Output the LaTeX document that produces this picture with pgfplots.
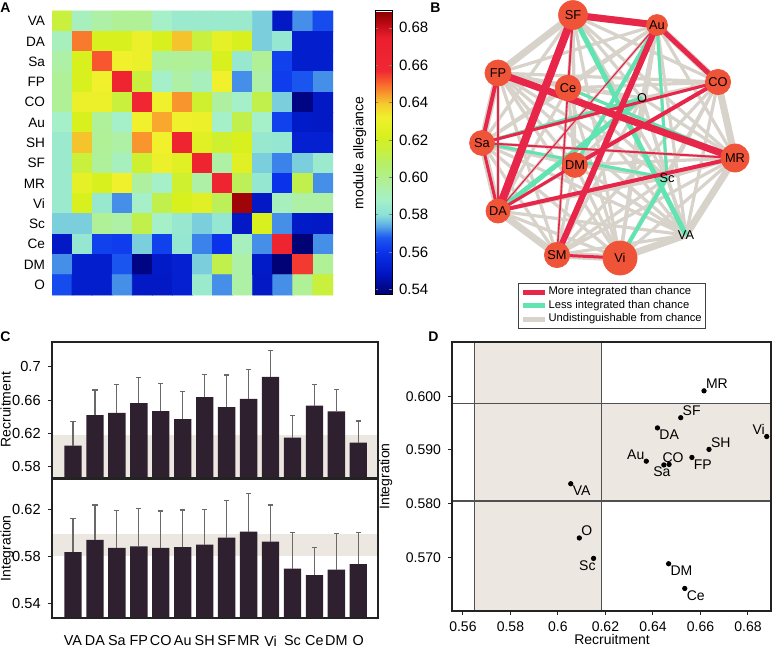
\documentclass[border=0pt]{standalone}
\usepackage{fontspec}
\setmainfont{Liberation Sans}
\usepackage{pgfplots}
\usepackage{pgfplotstable}
\pgfplotsset{compat=1.18}

\definecolor{barfill}{RGB}{46,32,46}
\definecolor{whisk}{RGB}{105,105,105}
\definecolor{band}{RGB}{237,231,225}
\definecolor{edgered}{RGB}{232,38,74}
\definecolor{edgegreen}{RGB}{98,228,178}
\definecolor{edgegray}{RGB}{215,210,202}
\definecolor{nodefill}{RGB}{240,84,56}
\definecolor{framec}{RGB}{35,35,35}
\definecolor{guide}{RGB}{80,80,80}

\pgfplotsset{
  /pgf/number format/assume math mode=true,
  colormap={allegiance}{[1pt]
    rgb255(0pt)=(0,0,110);
    rgb255(11pt)=(0,20,190);
    rgb255(23pt)=(10,50,235);
    rgb255(31pt)=(30,90,240);
    rgb255(37pt)=(90,170,230);
    rgb255(43pt)=(140,225,215);
    rgb255(51pt)=(165,240,200);
    rgb255(59pt)=(175,240,160);
    rgb255(69pt)=(180,240,110);
    rgb255(78pt)=(200,240,60);
    rgb255(85pt)=(215,240,30);
    rgb255(95pt)=(240,240,45);
    rgb255(102pt)=(245,205,45);
    rgb255(108pt)=(248,150,45);
    rgb255(114pt)=(248,95,45);
    rgb255(120pt)=(240,40,50);
    rgb255(138pt)=(235,30,45);
    rgb255(145pt)=(190,10,20);
    rgb255(152pt)=(135,0,0)
  },
  netnode/.style={only marks, mark=*, color=nodefill, mark size=#1,
    nodes near coords align={center},
    every node near coord/.style={font=\fontsize{6.4}{7}\selectfont, text=black, inner sep=0pt, anchor=center}},
}

% recruitment / integration per module, with upper error
\pgfplotstableread{
name rec recerr int interr
VA 0.6054 0.0286 0.5837 0.0287
DA 0.6419 0.0301 0.5941 0.0296
Sa 0.6446 0.0339 0.5872 0.0318
FP 0.6564 0.0306 0.5886 0.0322
CO 0.6468 0.0332 0.5873 0.0313
Au 0.6372 0.0328 0.5879 0.0315
SH 0.6636 0.0274 0.5901 0.0299
SF 0.6517 0.0383 0.5960 0.0316
MR 0.6615 0.0355 0.6010 0.0323
Vi 0.6879 0.0311 0.5925 0.0312
Sc 0.6150 0.0270 0.5698 0.0303
Ce 0.6534 0.0256 0.5642 0.0231
DM 0.6466 0.0264 0.5688 0.0308
O 0.6090 0.0260 0.5736 0.0268
}\modules

\begin{document}
\begin{tikzpicture}

% ---------------- A: module allegiance matrix ----------------
\begin{axis}[
  at={(26pt,177pt)}, anchor=south west, scale only axis,
  width=140.5pt, height=142pt,
  xmin=-0.5, xmax=13.5, ymin=-0.5, ymax=13.5, y dir=reverse,
  enlargelimits=false,
  xtick=\empty, ytick={0,...,13},
  yticklabels={VA,DA,Sa,FP,CO,Au,SH,SF,MR,Vi,Sc,Ce,DM,O},
  yticklabel style={font=\fontsize{6.8}{8}\selectfont},
  major tick length=0pt,
  axis line style={draw=none},
  colormap name=allegiance,
  point meta min=0.537, point meta max=0.689,
  colorbar,
  colorbar style={
    at={(parent axis.north east)}, anchor=north west, xshift=12.5pt,
    width=8.5pt,
    axis line style={draw=black, line width=0.5pt},
    ytick={0.54,0.56,0.58,0.60,0.62,0.64,0.66,0.68},
    yticklabel style={font=\fontsize{7.5}{9}\selectfont,
      /pgf/number format/.cd, fixed, fixed zerofill, precision=2},
    major tick length=1.5pt, tick align=inside,
    ylabel={module allegiance},
    ylabel style={at={(axis description cs:-0.1,0.5)}, anchor=south,
      font=\fontsize{7}{8.4}\selectfont},
  },
]
\addplot[matrix plot*, mesh/cols=14, point meta=explicit] coordinates {
(0,0)[0.615] (1,0)[0.590] (2,0)[0.595] (3,0)[0.598] (4,0)[0.598] (5,0)[0.588] (6,0)[0.585] (7,0)[0.585] (8,0)[0.585] (9,0)[0.585] (10,0)[0.578] (11,0)[0.550] (12,0)[0.572] (13,0)[0.565]
(0,1)[0.590] (1,1)[0.648] (2,1)[0.622] (3,1)[0.622] (4,1)[0.630] (5,1)[0.622] (6,1)[0.640] (7,1)[0.615] (8,1)[0.628] (9,1)[0.622] (10,1)[0.578] (11,1)[0.583] (12,1)[0.552] (13,1)[0.552]
(0,2)[0.595] (1,2)[0.622] (2,2)[0.652] (3,2)[0.632] (4,2)[0.630] (5,2)[0.597] (6,2)[0.598] (7,2)[0.597] (8,2)[0.622] (9,2)[0.584] (10,2)[0.598] (11,2)[0.563] (12,2)[0.552] (13,2)[0.552]
(0,3)[0.598] (1,3)[0.622] (2,3)[0.632] (3,3)[0.664] (4,3)[0.615] (5,3)[0.588] (6,3)[0.595] (7,3)[0.590] (8,3)[0.632] (9,3)[0.572] (10,3)[0.595] (11,3)[0.562] (12,3)[0.567] (13,3)[0.572]
(0,4)[0.598] (1,4)[0.630] (2,4)[0.630] (3,4)[0.615] (4,4)[0.658] (5,4)[0.632] (6,4)[0.645] (7,4)[0.618] (8,4)[0.596] (9,4)[0.588] (10,4)[0.612] (11,4)[0.578] (12,4)[0.540] (13,4)[0.550]
(0,5)[0.588] (1,5)[0.622] (2,5)[0.597] (3,5)[0.588] (4,5)[0.632] (5,5)[0.643] (6,5)[0.632] (7,5)[0.630] (8,5)[0.588] (9,5)[0.612] (10,5)[0.588] (11,5)[0.563] (12,5)[0.551] (13,5)[0.550]
(0,6)[0.585] (1,6)[0.640] (2,6)[0.598] (3,6)[0.595] (4,6)[0.645] (5,6)[0.632] (6,6)[0.665] (7,6)[0.626] (8,6)[0.618] (9,6)[0.622] (10,6)[0.584] (11,6)[0.583] (12,6)[0.553] (13,6)[0.553]
(0,7)[0.585] (1,7)[0.615] (2,7)[0.597] (3,7)[0.590] (4,7)[0.618] (5,7)[0.630] (6,7)[0.626] (7,7)[0.663] (8,7)[0.595] (9,7)[0.626] (10,7)[0.578] (11,7)[0.571] (12,7)[0.578] (13,7)[0.585]
(0,8)[0.585] (1,8)[0.628] (2,8)[0.622] (3,8)[0.632] (4,8)[0.596] (5,8)[0.588] (6,8)[0.618] (7,8)[0.595] (8,8)[0.664] (9,8)[0.610] (10,8)[0.583] (11,8)[0.560] (12,8)[0.612] (13,8)[0.572]
(0,9)[0.585] (1,9)[0.622] (2,9)[0.584] (3,9)[0.572] (4,9)[0.588] (5,9)[0.612] (6,9)[0.622] (7,9)[0.626] (8,9)[0.610] (9,9)[0.686] (10,9)[0.550] (11,9)[0.590] (12,9)[0.595] (13,9)[0.595]
(0,10)[0.578] (1,10)[0.578] (2,10)[0.598] (3,10)[0.595] (4,10)[0.612] (5,10)[0.588] (6,10)[0.584] (7,10)[0.578] (8,10)[0.583] (9,10)[0.550] (10,10)[0.622] (11,10)[0.572] (12,10)[0.551] (13,10)[0.550]
(0,11)[0.550] (1,11)[0.583] (2,11)[0.563] (3,11)[0.562] (4,11)[0.578] (5,11)[0.563] (6,11)[0.583] (7,11)[0.571] (8,11)[0.560] (9,11)[0.590] (10,11)[0.572] (11,11)[0.664] (12,11)[0.538] (13,11)[0.572]
(0,12)[0.572] (1,12)[0.552] (2,12)[0.552] (3,12)[0.567] (4,12)[0.540] (5,12)[0.551] (6,12)[0.553] (7,12)[0.578] (8,12)[0.612] (9,12)[0.595] (10,12)[0.551] (11,12)[0.538] (12,12)[0.655] (13,12)[0.598]
(0,13)[0.565] (1,13)[0.552] (2,13)[0.552] (3,13)[0.572] (4,13)[0.550] (5,13)[0.550] (6,13)[0.553] (7,13)[0.585] (8,13)[0.572] (9,13)[0.595] (10,13)[0.550] (11,13)[0.572] (12,13)[0.598] (13,13)[0.615]
};
\end{axis}

% ---------------- B: integration network ----------------
\begin{axis}[
  at={(220pt,159.5pt)}, anchor=south west, scale only axis,
  width=168.5pt, height=165pt,
  xmin=440, xmax=777, ymin=0, ymax=330, y dir=reverse,
  hide axis, clip=false,
  legend style={at={(0.509,0.1424)}, anchor=north, draw=black!75,
    font=\fontsize{5.6}{6.4}\selectfont, inner sep=1.2pt, row sep=0.4pt,
    nodes={inner sep=0.4pt}},
  legend cell align=left,
  legend image code/.code={\draw[#1] (0pt,0pt) -- (11pt,0pt);},
  legend entries={More integrated than chance, Less integrated than chance, Undistinguishable from chance},
]
\addlegendimage{edgered, line width=2.6pt}
\addlegendimage{edgegreen, line width=2.6pt}
\addlegendimage{edgegray, line width=2.6pt}

% outer ring of pairs
\addplot[edgegray, line width=3.5pt, line join=round] coordinates {(573,15) (657,25) (718,82) (735,158) (686,235) (620,258) (557,255) (498,211) (482,143) (498,73) (573,15)};
% every pair of modules
\addplot[edgegray, line width=1.6pt, line join=round, line cap=round] coordinates {(686,235) (498,211) (686,235) (482,143) (686,235) (498,73) (686,235) (718,82) (686,235) (657,25) (686,235) (557,255) (686,235) (573,15) (686,235) (735,158) (686,235) (620,258) (686,235) (667,178) (686,235) (568,88) (686,235) (575,165) (686,235) (642,98)};
\addplot[edgegray, line width=1.6pt, line join=round, line cap=round] coordinates {(498,211) (482,143) (498,211) (498,73) (498,211) (718,82) (498,211) (657,25) (498,211) (557,255) (498,211) (573,15) (498,211) (735,158) (498,211) (620,258) (498,211) (667,178) (498,211) (568,88) (498,211) (575,165) (498,211) (642,98)};
\addplot[edgegray, line width=1.6pt, line join=round, line cap=round] coordinates {(482,143) (498,73) (482,143) (718,82) (482,143) (657,25) (482,143) (557,255) (482,143) (573,15) (482,143) (735,158) (482,143) (620,258) (482,143) (667,178) (482,143) (568,88) (482,143) (575,165) (482,143) (642,98)};
\addplot[edgegray, line width=1.6pt, line join=round, line cap=round] coordinates {(498,73) (718,82) (498,73) (657,25) (498,73) (557,255) (498,73) (573,15) (498,73) (735,158) (498,73) (620,258) (498,73) (667,178) (498,73) (568,88) (498,73) (575,165) (498,73) (642,98)};
\addplot[edgegray, line width=1.6pt, line join=round, line cap=round] coordinates {(718,82) (657,25) (718,82) (557,255) (718,82) (573,15) (718,82) (735,158) (718,82) (620,258) (718,82) (667,178) (718,82) (568,88) (718,82) (575,165) (718,82) (642,98)};
\addplot[edgegray, line width=1.6pt, line join=round, line cap=round] coordinates {(657,25) (557,255) (657,25) (573,15) (657,25) (735,158) (657,25) (620,258) (657,25) (667,178) (657,25) (568,88) (657,25) (575,165) (657,25) (642,98)};
\addplot[edgegray, line width=1.6pt, line join=round, line cap=round] coordinates {(557,255) (573,15) (557,255) (735,158) (557,255) (620,258) (557,255) (667,178) (557,255) (568,88) (557,255) (575,165) (557,255) (642,98)};
\addplot[edgegray, line width=1.6pt, line join=round, line cap=round] coordinates {(573,15) (735,158) (573,15) (620,258) (573,15) (667,178) (573,15) (568,88) (573,15) (575,165) (573,15) (642,98)};
\addplot[edgegray, line width=1.6pt, line join=round, line cap=round] coordinates {(735,158) (620,258) (735,158) (667,178) (735,158) (568,88) (735,158) (575,165) (735,158) (642,98)};
\addplot[edgegray, line width=1.6pt, line join=round, line cap=round] coordinates {(620,258) (667,178) (620,258) (568,88) (620,258) (575,165) (620,258) (642,98)};
\addplot[edgegray, line width=1.6pt, line join=round, line cap=round] coordinates {(667,178) (568,88) (667,178) (575,165) (667,178) (642,98)};
\addplot[edgegray, line width=1.6pt, line join=round, line cap=round] coordinates {(568,88) (575,165) (568,88) (642,98)};
\addplot[edgegray, line width=1.6pt, line join=round, line cap=round] coordinates {(575,165) (642,98)};

% less integrated than chance
\addplot[edgegreen, line width=2.5pt] coordinates {(573,15) (686,235)};
\addplot[edgegreen, line width=2pt] coordinates {(657,25) (575,165)};
\addplot[edgegreen, line width=2.5pt] coordinates {(642,98) (498,211)};
\addplot[edgegreen, line width=2pt] coordinates {(620,258) (667,178)};
\addplot[edgegreen, line width=1.5pt] coordinates {(657,25) (667,178)};
\addplot[edgegreen, line width=1.5pt] coordinates {(568,88) (735,158)};
\addplot[edgegreen, line width=1.5pt] coordinates {(482,143) (642,98)};
\addplot[edgegreen, line width=1.5pt] coordinates {(482,143) (667,178)};

% more integrated than chance
\addplot[edgered, line width=3.5pt] coordinates {(573,15) (657,25)};
\addplot[edgered, line width=2.5pt] coordinates {(657,25) (718,82)};
\addplot[edgered, line width=4pt] coordinates {(573,15) (498,211)};
\addplot[edgered, line width=1pt] coordinates {(573,15) (568,88)};
\addplot[edgered, line width=0.8pt] coordinates {(568,88) (557,255)};
\addplot[edgered, line width=3pt] coordinates {(657,25) (557,255)};
\addplot[edgered, line width=0.6pt] coordinates {(657,25) (498,211)};
\addplot[edgered, line width=2pt] coordinates {(498,73) (482,143)};
\addplot[edgered, line width=0.8pt] coordinates {(498,73) (498,211)};
\addplot[edgered, line width=3.5pt] coordinates {(498,73) (735,158)};
\addplot[edgered, line width=1.5pt] coordinates {(482,143) (498,211)};
\addplot[edgered, line width=1.5pt] coordinates {(482,143) (718,82)};
\addplot[edgered, line width=1pt] coordinates {(482,143) (735,158)};
\addplot[edgered, line width=2pt] coordinates {(498,211) (735,158)};
\addplot[edgered, line width=1.5pt] coordinates {(498,211) (575,165)};
\addplot[edgered, line width=2pt] coordinates {(575,165) (718,82)};
\addplot[edgered, line width=1.5pt] coordinates {(557,255) (620,258)};

% modules with recruitment above chance
\addplot[netnode=7.2pt, nodes near coords={SF}] coordinates {(573,15)};
\addplot[netnode=5.2pt, nodes near coords={Au}] coordinates {(657,25)};
\addplot[netnode=6.3pt, nodes near coords={CO}] coordinates {(718,82)};
\addplot[netnode=7pt, nodes near coords={MR}] coordinates {(735,158)};
\addplot[netnode=8.5pt, nodes near coords={Vi}] coordinates {(620,258)};
\addplot[netnode=6.3pt, nodes near coords={SM}] coordinates {(557,255)};
\addplot[netnode=6pt, nodes near coords={DA}] coordinates {(498,211)};
\addplot[netnode=6.2pt, nodes near coords={Sa}] coordinates {(482,143)};
\addplot[netnode=6.5pt, nodes near coords={FP}] coordinates {(498,73)};
\addplot[netnode=6.4pt, nodes near coords={Ce}] coordinates {(568,88)};
\addplot[netnode=6.2pt, nodes near coords={DM}] coordinates {(575,165)};

\begin{scope}[every node/.style={font=\fontsize{6.4}{7}\selectfont, inner sep=0pt}]
\node at (axis cs:642,98) {O};
\node at (axis cs:667,178) {Sc};
\node at (axis cs:686,235) {VA};
\end{scope}
\end{axis}

% ---------------- C: recruitment bars ----------------
\begin{axis}[
  at={(25.85pt,85.65pt)}, anchor=south west, scale only axis,
  width=163.3pt, height=68pt,
  xmin=-0.97, xmax=13.91, ymin=0.567, ymax=0.730,
  xtick=\empty, ytick={0.58,0.62,0.66,0.7},
  yticklabels={0.58,0.62,0.66,0.7},
  ytick pos=left, tick align=outside, major tick length=2pt,
  tick style={framec, line width=0.5pt},
  axis line style={framec, line width=0.9pt},
  ticklabel style={font=\fontsize{7.3}{9}\selectfont},
  ylabel={Recruitment},
  ylabel style={at={(axis description cs:-0.158,0.5)}, anchor=north, inner sep=0pt,
    font=\fontsize{7}{8.4}\selectfont},
  axis on top,
]
\addplot[fill=band, draw=none] coordinates {(-2,0.50) (15,0.50) (15,0.6185) (-2,0.6185)} -- cycle;
\addplot[ybar, bar width=0.79, fill=barfill, draw=none,
  error bars/.cd, y dir=plus, y explicit,
  error bar style={whisk, line width=0.6pt},
  error mark options={rotate=90, whisk, line width=0.6pt, mark size=1.3pt}]
  table[x expr=\coordindex, y=rec, y error=recerr] {\modules};
\end{axis}

% ---------------- C: integration bars ----------------
\begin{axis}[
  at={(25.85pt,15.65pt)}, anchor=south west, scale only axis,
  width=163.3pt, height=69.35pt,
  xmin=-0.97, xmax=13.91, ymin=0.5281, ymax=0.6457,
  xtick={0,...,13},
  xticklabels={VA,DA,Sa,FP,CO,Au,SH,SF,MR,Vi,Sc,Ce,DM,O},
  xticklabel style={yshift=-3.5pt, font=\fontsize{7.2}{8.6}\selectfont},
  ytick={0.54,0.58,0.62},
  yticklabels={0.54,0.58,0.62},
  yticklabel style={font=\fontsize{7.3}{9}\selectfont},
  ytick pos=left, tick align=outside, major tick length=2pt,
  x tick style={draw=none},
  tick style={framec, line width=0.5pt},
  axis line style={framec, line width=0.9pt},
  ylabel={Integration},
  ylabel style={at={(axis description cs:-0.158,0.5)}, anchor=north, inner sep=0pt,
    font=\fontsize{7}{8.4}\selectfont},
  axis on top,
]
\addplot[fill=band, draw=none] coordinates {(-2,0.5807) (15,0.5807) (15,0.5988) (-2,0.5988)} -- cycle;
\addplot[ybar, bar width=0.79, fill=barfill, draw=none,
  error bars/.cd, y dir=plus, y explicit,
  error bar style={whisk, line width=0.6pt},
  error mark options={rotate=90, whisk, line width=0.6pt, mark size=1.3pt}]
  table[x expr=\coordindex, y=int, y error=interr] {\modules};
\end{axis}

% ---------------- D: integration vs recruitment ----------------
\begin{axis}[
  at={(226pt,19pt)}, anchor=south west, scale only axis,
  width=159.5pt, height=134.5pt,
  xmin=0.5554, xmax=0.6897, ymin=0.560, ymax=0.6101,
  xtick={0.56,0.58,0.6,0.62,0.64,0.66,0.68},
  ytick={0.57,0.58,0.59,0.60},
  yticklabel style={/pgf/number format/.cd, fixed, fixed zerofill, precision=3},
  xticklabel style={/pgf/number format/.cd, fixed, precision=2},
  xtick pos=bottom, ytick pos=left, tick align=outside, major tick length=2pt,
  tick style={framec, line width=0.5pt},
  axis line style={framec, line width=0.9pt},
  ticklabel style={font=\fontsize{7}{8.4}\selectfont},
  ylabel={Integration}, label style={font=\fontsize{7}{8.4}\selectfont},
  axis on top,
]
\addplot[fill=band, draw=none] coordinates {(0.565,0.55) (0.6182,0.55) (0.6182,0.62) (0.565,0.62)} -- cycle;
\addplot[fill=band, draw=none] coordinates {(0.565,0.5805) (0.70,0.5805) (0.70,0.5987) (0.565,0.5987)} -- cycle;
\addplot[guide, line width=0.6pt] coordinates {(0.565,0.55) (0.565,0.62)};
\addplot[guide, line width=0.6pt] coordinates {(0.6182,0.55) (0.6182,0.62)};
\addplot[guide, line width=0.6pt] coordinates {(0.55,0.5987) (0.70,0.5987)};
\addplot[guide, line width=0.6pt] coordinates {(0.55,0.5805) (0.70,0.5805)};
\addplot[only marks, mark=*, mark size=1.1pt, black] table[x=rec, y=int] {\modules};
\begin{scope}[every node/.style={font=\fontsize{7}{8.4}\selectfont, inner sep=0.8pt}]
\node[anchor=south west] at (axis cs:0.6615,0.6010) {MR};
\node[anchor=south west] at (axis cs:0.6517,0.5960) {SF};
\node[anchor=north west] at (axis cs:0.6419,0.5941) {DA};
\node[anchor=south east] at (axis cs:0.6879,0.5925) {Vi};
\node[anchor=south west] at (axis cs:0.6636,0.5901) {SH};
\node[anchor=south east] at (axis cs:0.6372,0.5879) {Au};
\node[anchor=south, xshift=2pt] at (axis cs:0.6468,0.5873) {CO};
\node[anchor=north, xshift=-1pt] at (axis cs:0.6446,0.5872) {Sa};
\node[anchor=north west] at (axis cs:0.6564,0.5886) {FP};
\node[anchor=north west] at (axis cs:0.6054,0.5837) {VA};
\node[anchor=south west] at (axis cs:0.6090,0.5736) {O};
\node[anchor=north east, xshift=2pt] at (axis cs:0.6150,0.5698) {Sc};
\node[anchor=north west] at (axis cs:0.6466,0.5688) {DM};
\node[anchor=north west] at (axis cs:0.6534,0.5642) {Ce};
\end{scope}
\end{axis}

\node[anchor=north, inner sep=0pt, font=\fontsize{7}{8.4}\selectfont] at (306pt,7.5pt) {Recruitment};

% panel letters
\begin{scope}[every node/.style={anchor=north west, inner sep=0pt, font=\bfseries\fontsize{7}{8}\selectfont}]
\node at (0pt,323.5pt) {A};
\node at (215pt,323.5pt) {B};
\node at (0pt,159pt) {C};
\node at (214pt,159pt) {D};
\end{scope}

\pgfresetboundingbox
\useasboundingbox (0,0) rectangle (388.5pt,324.5pt);
\end{tikzpicture}
\end{document}
